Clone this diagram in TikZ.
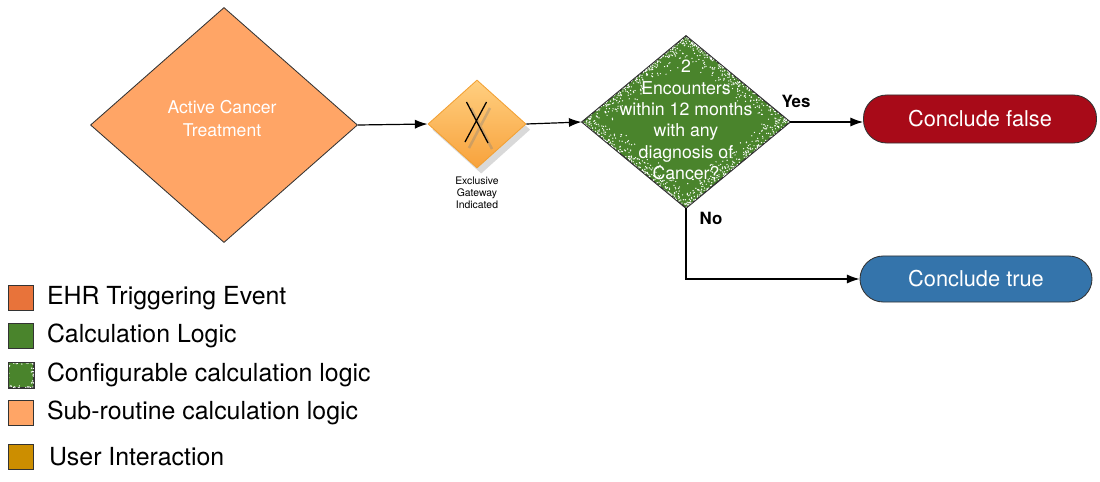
\documentclass[tikz,border=0pt]{standalone}
\usepackage{fontspec}
\setmainfont{TeX Gyre Heros}
\usetikzlibrary{shapes.geometric,arrows.meta,positioning,calc,shadows}

\definecolor{subrt}{HTML}{FFA566}
\definecolor{ehr}{HTML}{E8733A}
\definecolor{calc}{HTML}{4A842C}
\definecolor{usr}{HTML}{CC8E00}
\definecolor{fls}{HTML}{A80A18}
\definecolor{tru}{HTML}{3474AB}
\definecolor{gwtop}{HTML}{FFCF80}
\definecolor{gwbot}{HTML}{F8A23C}
\definecolor{gwedge}{HTML}{F2A033}

% white speckles along the inside of a node border
% #1 node, #2 dots per edge, #3-#6 corner anchors
\newcommand{\speckdots}[6]{%
  \begin{scope}
    \clip (#1.#3) -- (#1.#4) -- (#1.#5) -- (#1.#6) -- cycle;
    \foreach \ea/\eb in {#3/#4,#4/#5,#5/#6,#6/#3}
      \foreach \i in {1,...,#2}{
        \pgfmathsetmacro{\pu}{rnd}
        \pgfmathsetmacro{\pv}{0.3*rnd*rnd}
        \fill[white] ($($(#1.\ea)!\pu!(#1.\eb)$)!\pv!(#1.center)$) circle (0.5pt);
      }
  \end{scope}
  \draw[black!80,line width=0.6pt] (#1.#3) -- (#1.#4) -- (#1.#5) -- (#1.#6) -- cycle;}

\begin{document}
\begin{tikzpicture}[x=0.025cm,y=-0.025cm,
    box/.style={draw=black!80,line width=0.6pt},
    decision/.style={box,diamond,inner sep=0pt},
    endbox/.style={box,rounded corners=0.58cm,text=white,
      font=\fontsize{15.5}{18}\selectfont},
    inlbl/.style={text=white,align=center},
    flow/.style={line width=0.85pt,-{Latex[length=9pt,width=6.5pt]}},
    yn/.style={font=\bfseries\fontsize{12}{14}\selectfont},
    legbox/.style={box,minimum size=0.625cm,inner sep=0pt},
    legtext/.style={font=\fontsize{17.7}{20}\selectfont,inner sep=0pt}]
  \pgfmathsetseed{42}
  \useasboundingbox (0,0) rectangle (1100,481);

  % sub-routine
  \node[decision,fill=subrt,minimum width=6.675cm,minimum height=5.875cm] (act) at (224,125) {};
  \node[inlbl,font=\fontsize{12.5}{16.3}\selectfont] (actlbl) at (222,119) {Active Cancer\\Treatment};

  % gateway
  \node[decision,draw=gwedge,top color=gwtop,bottom color=gwbot,
    minimum width=2.45cm,minimum height=2.2cm,
    drop shadow={opacity=0.3,shadow xshift=3pt,shadow yshift=-4pt}] (gw) at (477,124) {};
  \draw[gray,opacity=0.35,line width=1.8pt] ($(gw)+(-6,-16)$) -- ($(gw)+(15,25)$)
    ($(gw)+(13,-16)$) -- ($(gw)+(-8,24)$);
  \draw[line width=0.9pt] ($(gw)+(-10.5,-22)$) -- ($(gw)+(11,19)$)
    ($(gw)+(9.5,-22)$) -- ($(gw)+(-12,18)$);
  \node[align=center,font=\fontsize{7.4}{8.6}\selectfont] (gwlbl) at (477,193) {Exclusive\\Gateway\\Indicated};

  % configurable logic
  \node[decision,fill=calc,minimum width=5.2cm,minimum height=4.3cm] (enc) at (686,122) {};
  \speckdots{enc}{260}{north}{east}{south}{west}
  \node[inlbl,font=\fontsize{12.6}{15.2}\selectfont] (enclbl) at (686,120)
    {2\\Encounters\\within 12 months\\with any\\diagnosis of\\Cancer?};

  % outcomes
  \node[endbox,fill=fls,minimum width=5.825cm,minimum height=1.2cm] (cfalse) at (980,119) {Conclude false};
  \node[endbox,fill=tru,minimum width=5.8cm,minimum height=1.15cm] (ctrue) at (976,279) {Conclude true};

  \draw[flow] (act.east) -- (gw.west);
  \draw[flow] (gw.east) -- (enc.west);
  \draw[flow] (enc.east) -- (enc.east -| cfalse.west);
  \draw[flow] (enc.south) |- (ctrue.west);
  \node[yn] (yes) at (796,101) {Yes};
  \node[yn] (no) at (711,218) {No};

  % legend
  \node[legbox,fill=ehr] (lg1) at (21,298) {};
  \node[legtext,right=0.32cm of lg1] (lt1) {EHR Triggering Event};
  \node[legbox,fill=calc] (lg2) at (21,336) {};
  \node[legtext,right=0.32cm of lg2] (lt2) {Calculation Logic};
  \node[legbox,fill=calc] (lg3) at (21,375) {};
  \speckdots{lg3}{14}{north west}{north east}{south east}{south west}
  \node[legtext,right=0.32cm of lg3] (lt3) {Configurable calculation logic};
  \node[legbox,fill=subrt] (lg4) at (21,413) {};
  \node[legtext,right=0.32cm of lg4] (lt4) {Sub-routine calculation logic};
  \node[legbox,fill=usr] (lg5) at (21,457) {};
  \node[legtext,right=0.37cm of lg5] (lt5) {User Interaction};
\end{tikzpicture}
\end{document}
